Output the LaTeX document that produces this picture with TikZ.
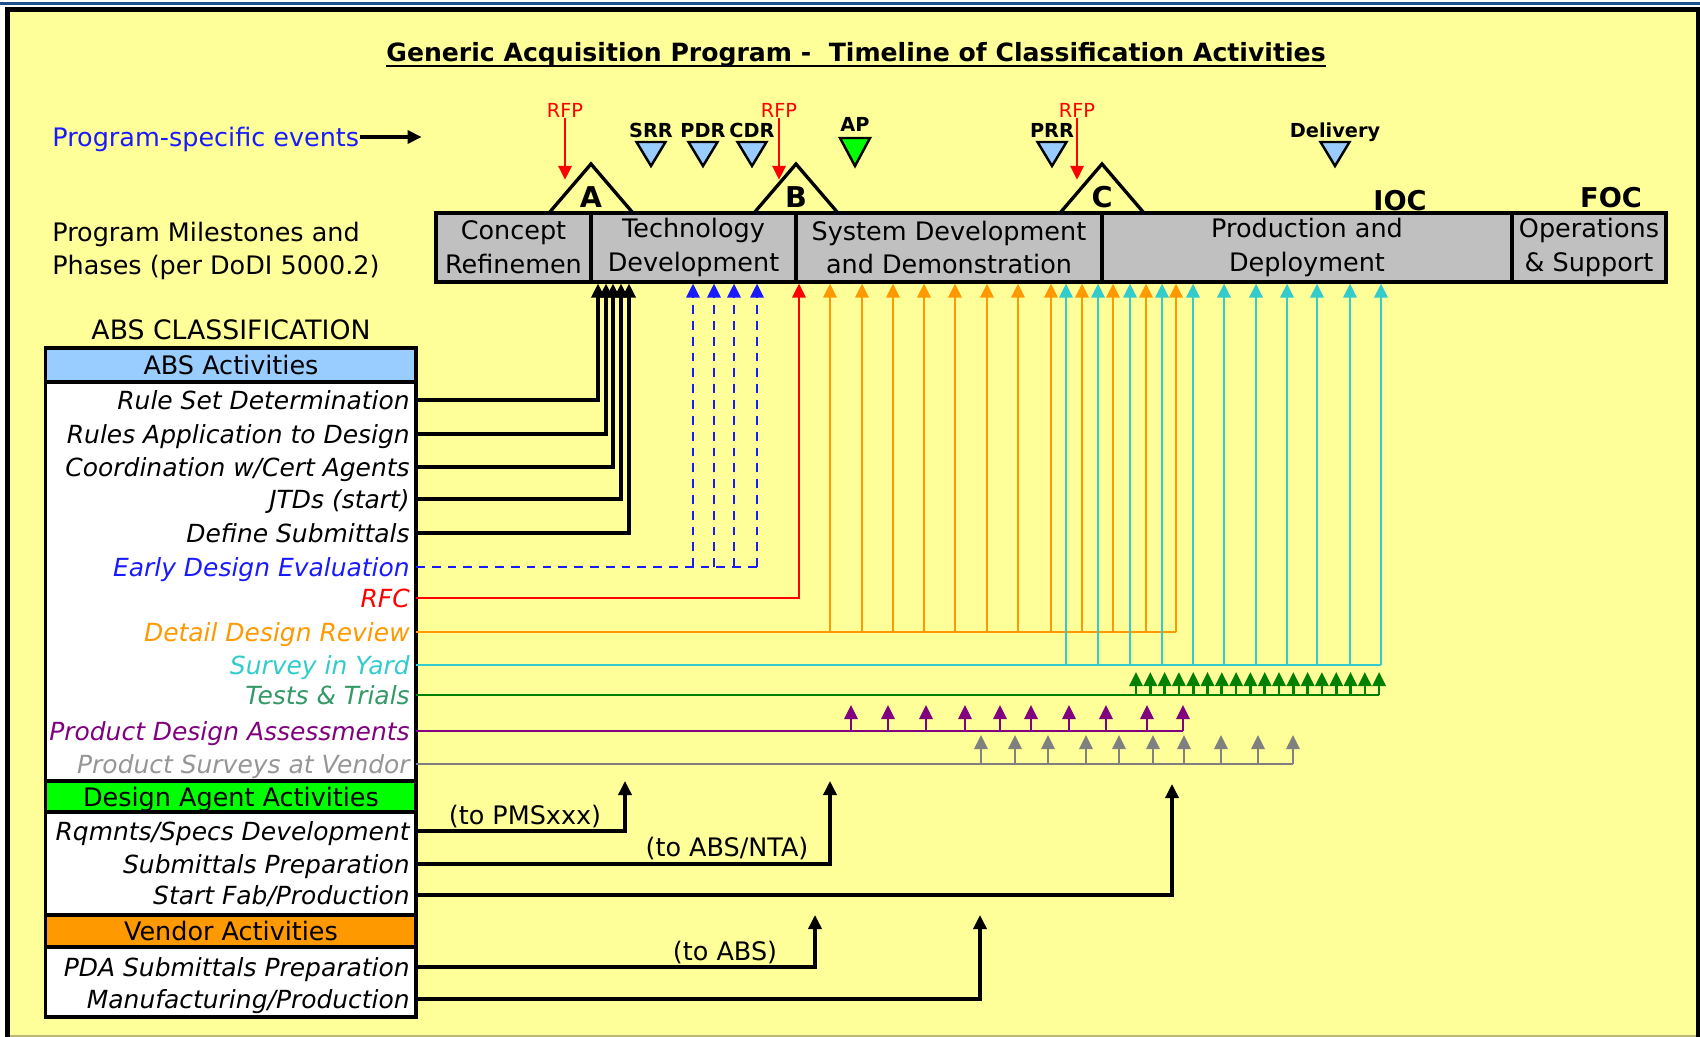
\documentclass[tikz,border=0pt]{standalone}
\usepackage{fontspec}
\setmainfont{DejaVu Sans}
\usetikzlibrary{arrows.meta}
\definecolor{bgyellow}{HTML}{FFFF99}
\definecolor{bargrey}{HTML}{C0C0C0}
\definecolor{hdblue}{HTML}{99CCFF}
\definecolor{hdgreen}{HTML}{00FF00}
\definecolor{hdorange}{HTML}{FF9900}
\definecolor{ddrorange}{HTML}{FF9900}
\definecolor{yardcyan}{HTML}{33CCCC}
\definecolor{trialgreen}{HTML}{008000}
\definecolor{trialtext}{HTML}{339966}
\definecolor{pdapurple}{HTML}{800080}
\definecolor{vendgrey}{HTML}{808080}
\definecolor{vendtext}{HTML}{969696}
\definecolor{edeblue}{HTML}{1A1AFF}
\definecolor{framebl}{HTML}{1F4E8C}
\definecolor{olivebd}{HTML}{B8B878}
\newcommand{\fsmain}{\fontsize{14.5}{19.3}\selectfont}
\newcommand{\fsrow}{\fontsize{14.2}{17}\selectfont\itshape}
\newcommand{\fstitle}{\fontsize{14.3}{17}\selectfont\bfseries}
\newcommand{\fsevent}{\fontsize{11}{13}\selectfont}
\newcommand{\fsmile}{\fontsize{16.3}{19}\selectfont\bfseries}
\newcommand{\fsbig}{\fontsize{15.5}{18}\selectfont\bfseries}
\newcommand{\fsclass}{\fontsize{15.2}{18}\selectfont}
\begin{document}
\begin{tikzpicture}[x=0.02cm,y=-0.02cm,
    lbl/.style={inner sep=0pt,text height=10.6pt,text depth=0pt,font=\fsmain},
    rowlbl/.style={lbl,anchor=east,inner xsep=3.4pt,text height=10.35pt,font=\fsrow},
    evlbl/.style={inner sep=0pt,text height=8pt,text depth=0pt,font=\fsevent},
    phase/.style={draw,line width=1.8pt,fill=bargrey,minimum height=1.38cm,align=center,font=\fsmain,inner sep=0pt},
    hdbox/.style={draw,line width=1.8pt},
    evtri/.style={draw,line width=1.4pt,fill=hdblue},
    tip/.style={-{Triangle[length=8pt,width=7.5pt]}},
    conn/.style={line width=1.8pt},
    cline/.style={line width=1.5pt}]
      \fill[white] (0,0) rectangle (1700,1037);
      \useasboundingbox (0,0) rectangle (1700,1037);
      \fill[framebl] (0,2.5) rectangle (1700,5.5);
      \fill[bgyellow] (7.5,9.8) rectangle (1698.5,1035.5);
      \draw[line width=2.8pt] (7.5,1037) -- (7.5,9.8) -- (1698.5,9.8) -- (1698.5,1037);
      \draw[olivebd,line width=0.9pt] (10,1035.8) -- (1696,1035.8);

      \node[lbl,font=\fstitle,text height=10.4pt] (title) at (856,52.5) {Generic Acquisition Program -~ Timeline of Classification Activities};
      \draw[line width=1.1pt] ([yshift=-2.3pt]title.south west) -- ([yshift=-2.3pt]title.south east);

      \node[lbl,anchor=west,text=edeblue] (pse) at (52,137) {Program-specific events};
      \draw[conn,tip] (pse.east) -- ++(62,0);
      \node[lbl,anchor=west] (pm1) at (52,232) {Program Milestones and};
      \node[lbl,anchor=west] (pm2) at (52,265.5) {Phases (per DoDI 5000.2)};

      \node[phase,minimum width=3.1cm] (cr) at (513.5,247.5) {Concept\\Refinemen};
      \node[phase,minimum width=4.1cm] (td) at (693.5,247.5) {Technology\\Development};
      \node[phase,minimum width=6.12cm] (sdd) at (949,247.5) {System Development\\and Demonstration};
      \node[phase,minimum width=8.2cm] (pd) at (1307,247.5) {Production and\\Deployment};
      \node[phase,minimum width=3.08cm] (os) at (1589,247.5) {Operations\\\& Support};

      \foreach \x/\ms in {591/A, 796/B, 1102/C} {
        \draw[line width=1.9pt] (\x-42,213) -- (\x,164) -- (\x+42,213);
        \node[lbl,font=\fsmile,text height=11.9pt] (ms\ms) at (\x,197.5) {\ms};
      }
      \node[lbl,font=\fsbig,text height=11.3pt] (ioc) at (1400,201) {IOC};
      \node[lbl,font=\fsbig,text height=11.3pt] (foc) at (1611,197.5) {FOC};

      \foreach \x/\n in {565/a, 779/b, 1077/c} {
        \node[evlbl,text=red] (rfp\n) at (\x,110.5) {RFP};
        \draw[cline,red,tip] (rfp\n.south) -- ++(0,62);
      }
      \foreach \x/\ev in {651/SRR, 703/PDR, 752/CDR, 1052/PRR, 1335/Delivery} {
        \node[evlbl,font=\fsevent\bfseries] (\ev) at (\x,130) {\ev};
        \draw[evtri] (\x-14.5,142) -- (\x+14.5,142) -- (\x,166) -- cycle;
      }
      \node[evlbl,font=\fsevent\bfseries] (AP) at (855,124) {AP};
      \draw[evtri,fill=hdgreen] (840,138) -- (870,138) -- (855,166) -- cycle;

      \node[lbl,font=\fsclass,text height=11.1pt] (abscls) at (231,330) {ABS CLASSIFICATION};
      \draw[hdbox,fill=white] (45.5,348) rectangle (416,1017);
      \draw[hdbox,fill=hdblue] (45.5,348) rectangle (416,382);
      \draw[hdbox,fill=hdgreen] (45.5,781) rectangle (416,812);
      \draw[hdbox,fill=hdorange] (45.5,915) rectangle (416,947);
      \node[lbl] (absact) at (231,365) {ABS Activities};
      \node[lbl] (dagact) at (231,797) {Design Agent Activities};
      \node[lbl] (venact) at (231,931) {Vendor Activities};

      \node[rowlbl] (rsd) at (416,400) {Rule Set Determination};
      \node[rowlbl] (rad) at (416,434) {Rules Application to Design};
      \node[rowlbl] (cwa) at (416,467) {Coordination w/Cert Agents};
      \node[rowlbl] (jtd) at (416,499) {JTDs (start)};
      \node[rowlbl] (dsu) at (416,533) {Define Submittals};
      \node[rowlbl,text=edeblue] (ede) at (416,567) {Early Design Evaluation};
      \node[rowlbl,text=red] (rfc) at (416,598) {RFC};
      \node[rowlbl,text=ddrorange] (ddr) at (416,632) {Detail Design Review};
      \node[rowlbl,text=yardcyan] (siy) at (416,665) {Survey in Yard};
      \node[rowlbl,text=trialtext] (ttr) at (416,695) {Tests \& Trials};
      \node[rowlbl,text=pdapurple] (pda) at (416,731) {Product Design Assessments};
      \node[rowlbl,text=vendtext] (psv) at (416,764) {Product Surveys at Vendor};
      \node[rowlbl] (rsdev) at (416,831) {Rqmnts/Specs Development};
      \node[rowlbl] (sprep) at (416,864) {Submittals Preparation};
      \node[rowlbl] (sfab) at (416,895) {Start Fab/Production};
      \node[rowlbl] (pdasub) at (416,967) {PDA Submittals Preparation};
      \node[rowlbl] (mfg) at (416,999) {Manufacturing/Production};

      \foreach \r/\x in {rsd/598, rad/606, cwa/613, jtd/621, dsu/629}
        \draw[conn,tip] (\r.east) -| (\x,0 |- td.south);

      \draw[cline,edeblue,dash pattern=on 5pt off 4pt] (ede.east) -- (757,0 |- ede.east);
      \foreach \x in {693,714,734,757}
        \draw[cline,edeblue,dash pattern=on 5pt off 4pt,tip] (\x,0 |- ede.east) -- (\x,0 |- td.south);

      \draw[cline,red,tip] (rfc.east) -| (799,0 |- sdd.south);

      \draw[cline,ddrorange] (ddr.east) -- (1176,0 |- ddr.east);
      \foreach \x in {830,862,893,924,955,987,1018,1051,1082,1113,1146,1176}
        \draw[cline,ddrorange,tip] (\x,0 |- ddr.east) -- (\x,0 |- sdd.south);

      \draw[cline,yardcyan] (siy.east) -- (1381,0 |- siy.east);
      \foreach \x in {1066,1098,1130,1162,1193,1224,1256,1287,1317,1350,1381}
        \draw[cline,yardcyan,tip] (\x,0 |- siy.east) -- (\x,0 |- pd.south);

      \draw[cline,trialgreen] (ttr.east) -- (1379,0 |- ttr.east);
      \foreach \i in {0,...,17}
        \draw[cline,trialgreen,tip] (1136+\i*14.3,0 |- ttr.east) -- ++(0,-23);

      \draw[cline,pdapurple] (pda.east) -- (1183,0 |- pda.east);
      \foreach \x in {851,888,926,965,1000,1031,1069,1106,1147,1183}
        \draw[cline,pdapurple,tip] (\x,0 |- pda.east) -- ++(0,-26);

      \draw[cline,vendgrey] (psv.east) -- (1293,0 |- psv.east);
      \foreach \x in {981,1015,1048,1086,1119,1153,1184,1221,1258,1293}
        \draw[cline,vendgrey,tip] (\x,0 |- psv.east) -- ++(0,-29);

      \coordinate (pmsend) at (625,781);
      \coordinate (ntaend) at (830,781);
      \coordinate (fabend) at (1172,784);
      \coordinate (absend) at (815,915);
      \coordinate (mfgend) at (980,915);
      \draw[conn,tip] (rsdev.east) -| (pmsend);
      \draw[conn,tip] (sprep.east) -| (ntaend);
      \draw[conn,tip] (sfab.east) -| (fabend);
      \draw[conn,tip] (pdasub.east) -| (absend);
      \draw[conn,tip] (mfg.east) -| (mfgend);
      \node[lbl] (tpms) at (525,815) {(to PMSxxx)};
      \node[lbl] (tnta) at (727,847) {(to ABS/NTA)};
      \node[lbl] (tabs) at (725,951) {(to ABS)};
    \end{tikzpicture}
\end{document}
